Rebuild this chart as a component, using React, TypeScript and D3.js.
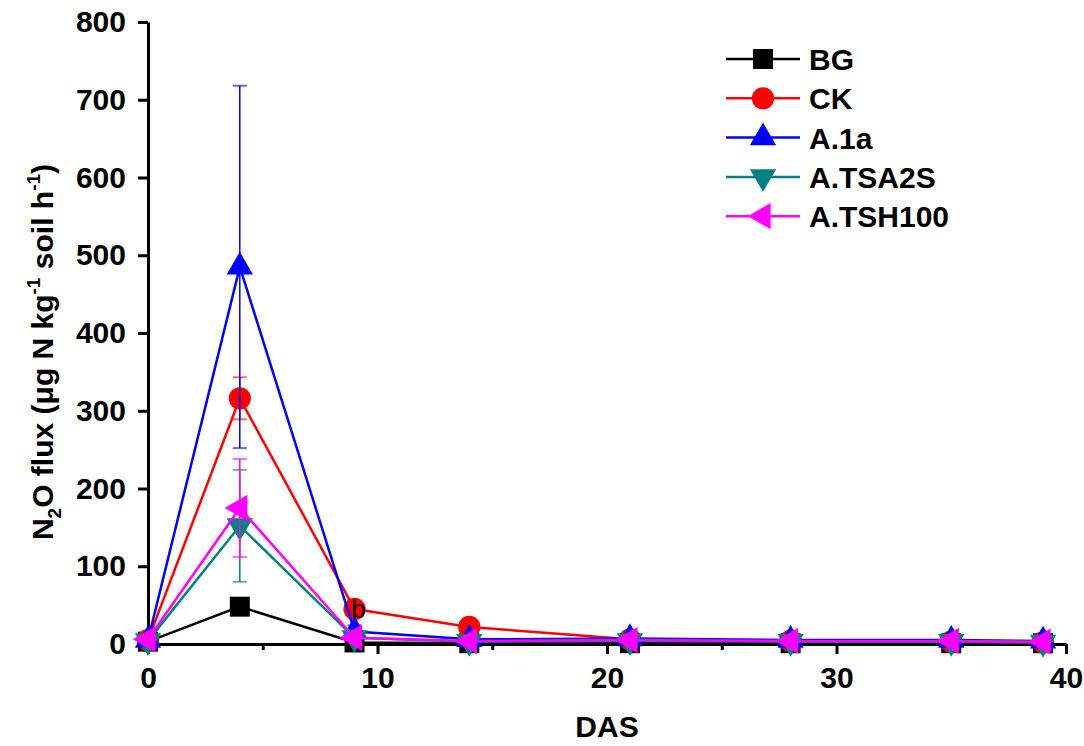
import * as d3 from "d3";
import { useRef, useEffect } from "react";

const days = [0, 4, 9, 14, 21, 28, 35, 39];
const seriesNames = ["BG", "CK", "A.1a", "A.TSA2S", "A.TSH100"];
const bgMean = [3, 48, 2, 1, 1, 1, 1, 1];
const bgErr = [1, 9, 1, 0.5, 0.5, 0.5, 0.5, 0.5];
const ckMean = [5, 316, 45, 22, 6, 4, 3, 2];
const ckErr = [1, 27, 9, 3, 1, 1, 1, 1];
const a1aMean = [5, 485, 16, 6, 7, 5, 5, 4];
const a1aErr = [1, 233, 8, 2, 3, 2, 2, 2];
const tsa2sMean = [4, 152, 8, 3, 4, 3, 3, 2];
const tsa2sErr = [1, 72, 3, 1, 1, 1, 1, 1];
const tsh100Mean = [6, 175, 8, 4, 5, 4, 4, 3];
const tsh100Err = [1, 63, 3, 1, 2, 1, 1, 1];
const xTicks = [0, 10, 20, 30, 40];
const xMinorTicks = [5, 15, 25, 35];
const yTicks = [0, 100, 200, 300, 400, 500, 600, 700, 800];
// significance letters
const letters = [{ series: "CK", day: 9, text: "b" }];

const colours = ["#000000", "#ff0000", "#0000ff", "#008080", "#ff00ff"];
const shapes = ["square", "circle", "up", "down", "left"];

const FONT = "'Liberation Sans', Arial, sans-serif";

function markerPath(shape) {
  if (shape === "square") return d3.symbol(d3.symbolSquare, 400)();
  if (shape === "circle") return d3.symbol(d3.symbolCircle, 390)();
  return d3.symbol(d3.symbolTriangle, 300)();
}
function markerRotation(shape) {
  if (shape === "down") return 180;
  if (shape === "left") return -90;
  return 0;
}

function App() {
  const chartRef = useRef(null);
  const width = 1084;
  const height = 746;

  useEffect(() => {
    document.body.style.margin = "0";
    const svg = d3.select(chartRef.current);
    svg.selectAll("*").remove();

    const x = d3.scaleLinear().domain([0, 40]).range([148, 1066]);
    const y = d3.scaleLinear().domain([0, 800]).range([644, 22]);

    const means = [bgMean, ckMean, a1aMean, tsa2sMean, tsh100Mean];
    const errs = [bgErr, ckErr, a1aErr, tsa2sErr, tsh100Err];
    const series = seriesNames.map((name, i) => ({
      name,
      colour: colours[i],
      shape: shapes[i],
      points: days.map((d, j) => ({ day: d, value: means[i][j], err: errs[i][j] })),
    }));

    // Axes
    const xAxis = svg
      .append("g")
      .attr("transform", `translate(0,${y(0)})`)
      .call(d3.axisBottom(x).tickValues(xTicks).tickSize(10).tickPadding(13).tickSizeOuter(0));
    svg
      .append("g")
      .attr("transform", `translate(0,${y(0)})`)
      .call(d3.axisBottom(x).tickValues(xMinorTicks).tickSize(6).tickFormat(() => ""))
      .call((g) => g.select(".domain").remove());

    const yAxis = svg
      .append("g")
      .attr("transform", `translate(${x(0)},0)`)
      .call(d3.axisLeft(y).tickValues(yTicks).tickSize(10).tickPadding(12).tickSizeOuter(0));

    [xAxis, yAxis].forEach((g) => {
      g.select(".domain").attr("stroke-width", 3).attr("stroke", "#000");
      g.selectAll(".tick text")
        .attr("font-family", FONT)
        .attr("font-weight", "bold")
        .attr("font-size", 30)
        .attr("fill", "#000");
    });
    svg.selectAll(".tick line").attr("stroke-width", 3);

    // Axis titles
    svg
      .append("text")
      .attr("x", 607)
      .attr("y", 737)
      .attr("text-anchor", "middle")
      .attr("font-family", FONT)
      .attr("font-weight", "bold")
      .attr("font-size", 30)
      .text("DAS");

    const yTitle = svg
      .append("text")
      .attr("transform", `translate(53,352) rotate(-90)`)
      .attr("text-anchor", "middle")
      .attr("font-family", FONT)
      .attr("font-weight", "bold")
      .attr("font-size", 30);
    yTitle.append("tspan").text("N");
    yTitle.append("tspan").attr("font-size", 19).attr("dy", 8).text("2");
    yTitle.append("tspan").attr("dy", -8).text("O flux (\u03bcg N kg");
    yTitle.append("tspan").attr("font-size", 19).attr("dy", -13).text("-1");
    yTitle.append("tspan").attr("dy", 13).text(" soil h");
    yTitle.append("tspan").attr("font-size", 19).attr("dy", -13).text("-1");
    yTitle.append("tspan").attr("dy", 13).text(")");

    // Series
    const line = d3
      .line()
      .x((d) => x(d.day))
      .y((d) => y(d.value));

    series.forEach((s) => {
      const g = svg.append("g");
      g.append("path")
        .attr("d", line(s.points))
        .attr("fill", "none")
        .attr("stroke", s.colour)
        .attr("stroke-width", 2.5);

      const eb = g
        .selectAll(".eb")
        .data(s.points)
        .join("g")
        .attr("stroke", s.colour);
      eb.append("line")
        .attr("x1", (d) => x(d.day))
        .attr("x2", (d) => x(d.day))
        .attr("y1", (d) => y(d.value + d.err))
        .attr("y2", (d) => y(Math.max(0, d.value - d.err)))
        .attr("stroke-width", 1.5);
      [1, -1].forEach((sign) => {
        eb.append("line")
          .attr("x1", (d) => x(d.day) - 7)
          .attr("x2", (d) => x(d.day) + 7)
          .attr("y1", (d) => y(Math.max(0, d.value + sign * d.err)))
          .attr("y2", (d) => y(Math.max(0, d.value + sign * d.err)))
          .attr("stroke-width", 2)
          .attr("stroke-opacity", 0.6);
      });

      g.selectAll(".marker")
        .data(s.points)
        .join("path")
        .attr("d", markerPath(s.shape))
        .attr(
          "transform",
          (d) => `translate(${x(d.day)},${y(d.value)}) rotate(${markerRotation(s.shape)})`
        )
        .attr("fill", s.colour);
    });

    // Significance letters
    letters.forEach((l) => {
      const s = series.find((d) => d.name === l.series);
      const p = s.points.find((d) => d.day === l.day);
      svg
        .append("text")
        .attr("x", x(p.day) + 4)
        .attr("y", y(p.value) + 9)
        .attr("text-anchor", "middle")
        .attr("font-family", FONT)
        .attr("font-size", 26)
        .text(l.text);
    });

    // Legend
    const legend = svg
      .append("g")
      .selectAll("g")
      .data(series)
      .join("g")
      .attr("transform", (d, i) => `translate(726,${59 + i * 39.3})`);
    legend
      .append("line")
      .attr("x1", 0)
      .attr("x2", 74)
      .attr("stroke", (d) => d.colour)
      .attr("stroke-width", 2.5);
    legend
      .append("path")
      .attr("d", (d) => markerPath(d.shape))
      .attr("transform", (d) => `translate(37,0) rotate(${markerRotation(d.shape)})`)
      .attr("fill", (d) => d.colour);
    legend
      .append("text")
      .attr("x", 83)
      .attr("y", 11)
      .attr("font-family", FONT)
      .attr("font-weight", "bold")
      .attr("font-size", 30)
      .text((d) => d.name);
  }, []);

  return (
    <svg
      ref={chartRef}
      width={width}
      height={height}
      viewBox={`0 0 ${width} ${height}`}
      style={{ display: "block", background: "#fff" }}
    ></svg>
  );
}

export default App;
